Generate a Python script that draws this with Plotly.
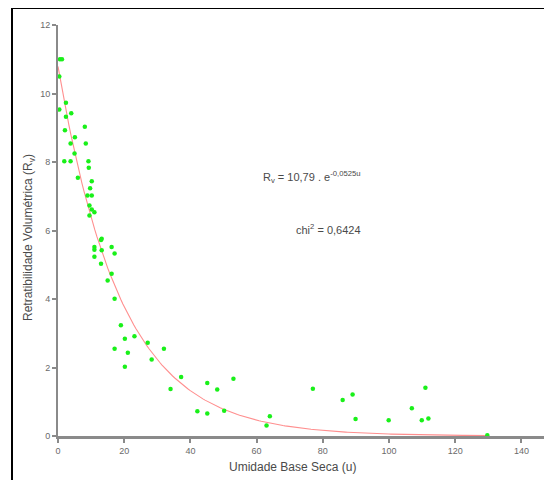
import numpy as np
import plotly.graph_objects as go

# Observed data (u, Rv)
u_obs = [0.6, 1.2, 0.4, 2.4, 0.4, 2.4, 4.0, 2.1, 5.1, 8.1, 3.8, 8.4, 5.0, 1.9, 3.8, 9.2,
         9.3, 6.0, 10.2, 9.7, 8.9, 10.2, 9.5, 10.2, 11.0, 9.5, 13.2,
         13.0, 11.0, 11.0, 13.2, 11.0, 16.2, 17.1, 13.0, 16.2, 15.0, 17.1, 19.0, 20.2,
         23.1, 17.1, 21.1, 27.1, 32.0, 28.3, 20.2, 37.2, 34.0, 42.1,
         45.1, 45.1, 48.1, 53.0, 50.2, 64.0, 63.0, 77.0, 86.0, 89.0, 89.9, 99.9,
         106.9, 111.0, 109.9, 111.9, 129.7]
rv_obs = [11.0, 11.0, 10.5, 9.73, 9.53, 9.32, 9.42, 8.93, 8.72, 9.03, 8.54, 8.54, 8.25, 8.02, 8.02, 8.02,
          7.83, 7.54, 7.44, 7.23, 7.02, 7.02, 6.73, 6.61, 6.53, 6.44, 5.76,
          5.72, 5.52, 5.44, 5.42, 5.23, 5.52, 5.33, 5.03, 4.74, 4.54, 4.01, 3.23, 2.84,
          2.91, 2.55, 2.43, 2.72, 2.55, 2.23, 2.02, 1.72, 1.37, 0.72,
          1.55, 0.66, 1.36, 1.67, 0.74, 0.58, 0.31, 1.38, 1.05, 1.21, 0.50, 0.46,
          0.81, 1.41, 0.46, 0.51, 0.02]

# Fitted model parameters
A = 10.79
k = 0.0525
u_fit = np.linspace(0, 130, 200)
rv_fit = A * np.exp(-k * u_fit)

x_ticks = [0, 20, 40, 60, 80, 100, 120, 140]
y_ticks = [0, 2, 4, 6, 8, 10, 12]

# page offset (browser body margin)
OFF = 8
W, H = 544, 472
L, T = 58 - OFF, 25 - OFF
PW, PH = W - L, 411
B = H - T - PH

def px(xp):  # page x pixel -> paper x
    return (xp - OFF - L) / PW

def py(yp):  # page y pixel -> paper y
    return 1 - (yp - OFF - T) / PH

fig = go.Figure()
fig.add_trace(go.Scatter(x=u_fit, y=rv_fit, mode="lines",
                         line=dict(color="#ff8f8f", width=1.1), showlegend=False))
fig.add_trace(go.Scatter(x=u_obs, y=rv_obs, mode="markers",
                         marker=dict(color="#19f019", size=4.5, line=dict(width=0)),
                         showlegend=False))

axis_common = dict(showgrid=False, zeroline=False, showline=True, linecolor="#8a8a8a",
                   ticks="outside", tickcolor="#8a8a8a", ticklen=4, tickwidth=1.5,
                   tickfont=dict(family="Arial, Liberation Sans", size=9, color="#6a6a6a"))

font_t = dict(family="Arial, Liberation Sans", size=12, color="#4a4a4a")
font_a = dict(family="Arial, Liberation Sans", size=11, color="#4a4a4a")

fig.update_layout(
    width=W, height=H,
    margin=dict(l=L, r=0, t=T, b=B, pad=0),
    paper_bgcolor="white", plot_bgcolor="white",
    xaxis=dict(range=[0, PW / 3.31], tickvals=x_ticks, linewidth=2.5, **axis_common),
    yaxis=dict(range=[0, 12], tickvals=y_ticks, linewidth=2, **axis_common),
    annotations=[
        dict(text="Umidade Base Seca (u)", xref="paper", yref="paper",
             x=px(292), y=py(467), xanchor="center", yanchor="middle",
             showarrow=False, font=font_t),
        dict(text="R<sub>v</sub> = 10,79 . e<sup>-0,0525u</sup>", xref="paper", yref="paper",
             x=px(312), y=py(177), xanchor="center", yanchor="middle",
             showarrow=False, font=font_a),
        dict(text="chi<sup>2</sup> = 0,6424", xref="paper", yref="paper",
             x=px(328), y=py(229), xanchor="center", yanchor="middle",
             showarrow=False, font=font_a),
        dict(text="Retratibilidade Volumétrica (R<sub>v</sub>)", xref="paper", yref="paper",
             x=px(29), y=py(238), xanchor="center", yanchor="middle", textangle=-90,
             showarrow=False, font=font_t),
    ],
    shapes=[
        dict(type="line", xref="paper", yref="paper",
             x0=px(12), x1=1.0, y0=py(8), y1=py(8),
             line=dict(color="black", width=2), layer="below"),
        dict(type="line", xref="paper", yref="paper",
             x0=px(12), x1=px(12), y0=py(480), y1=py(8),
             line=dict(color="black", width=2), layer="below"),
    ],
)

fig.write_html("out.html")
